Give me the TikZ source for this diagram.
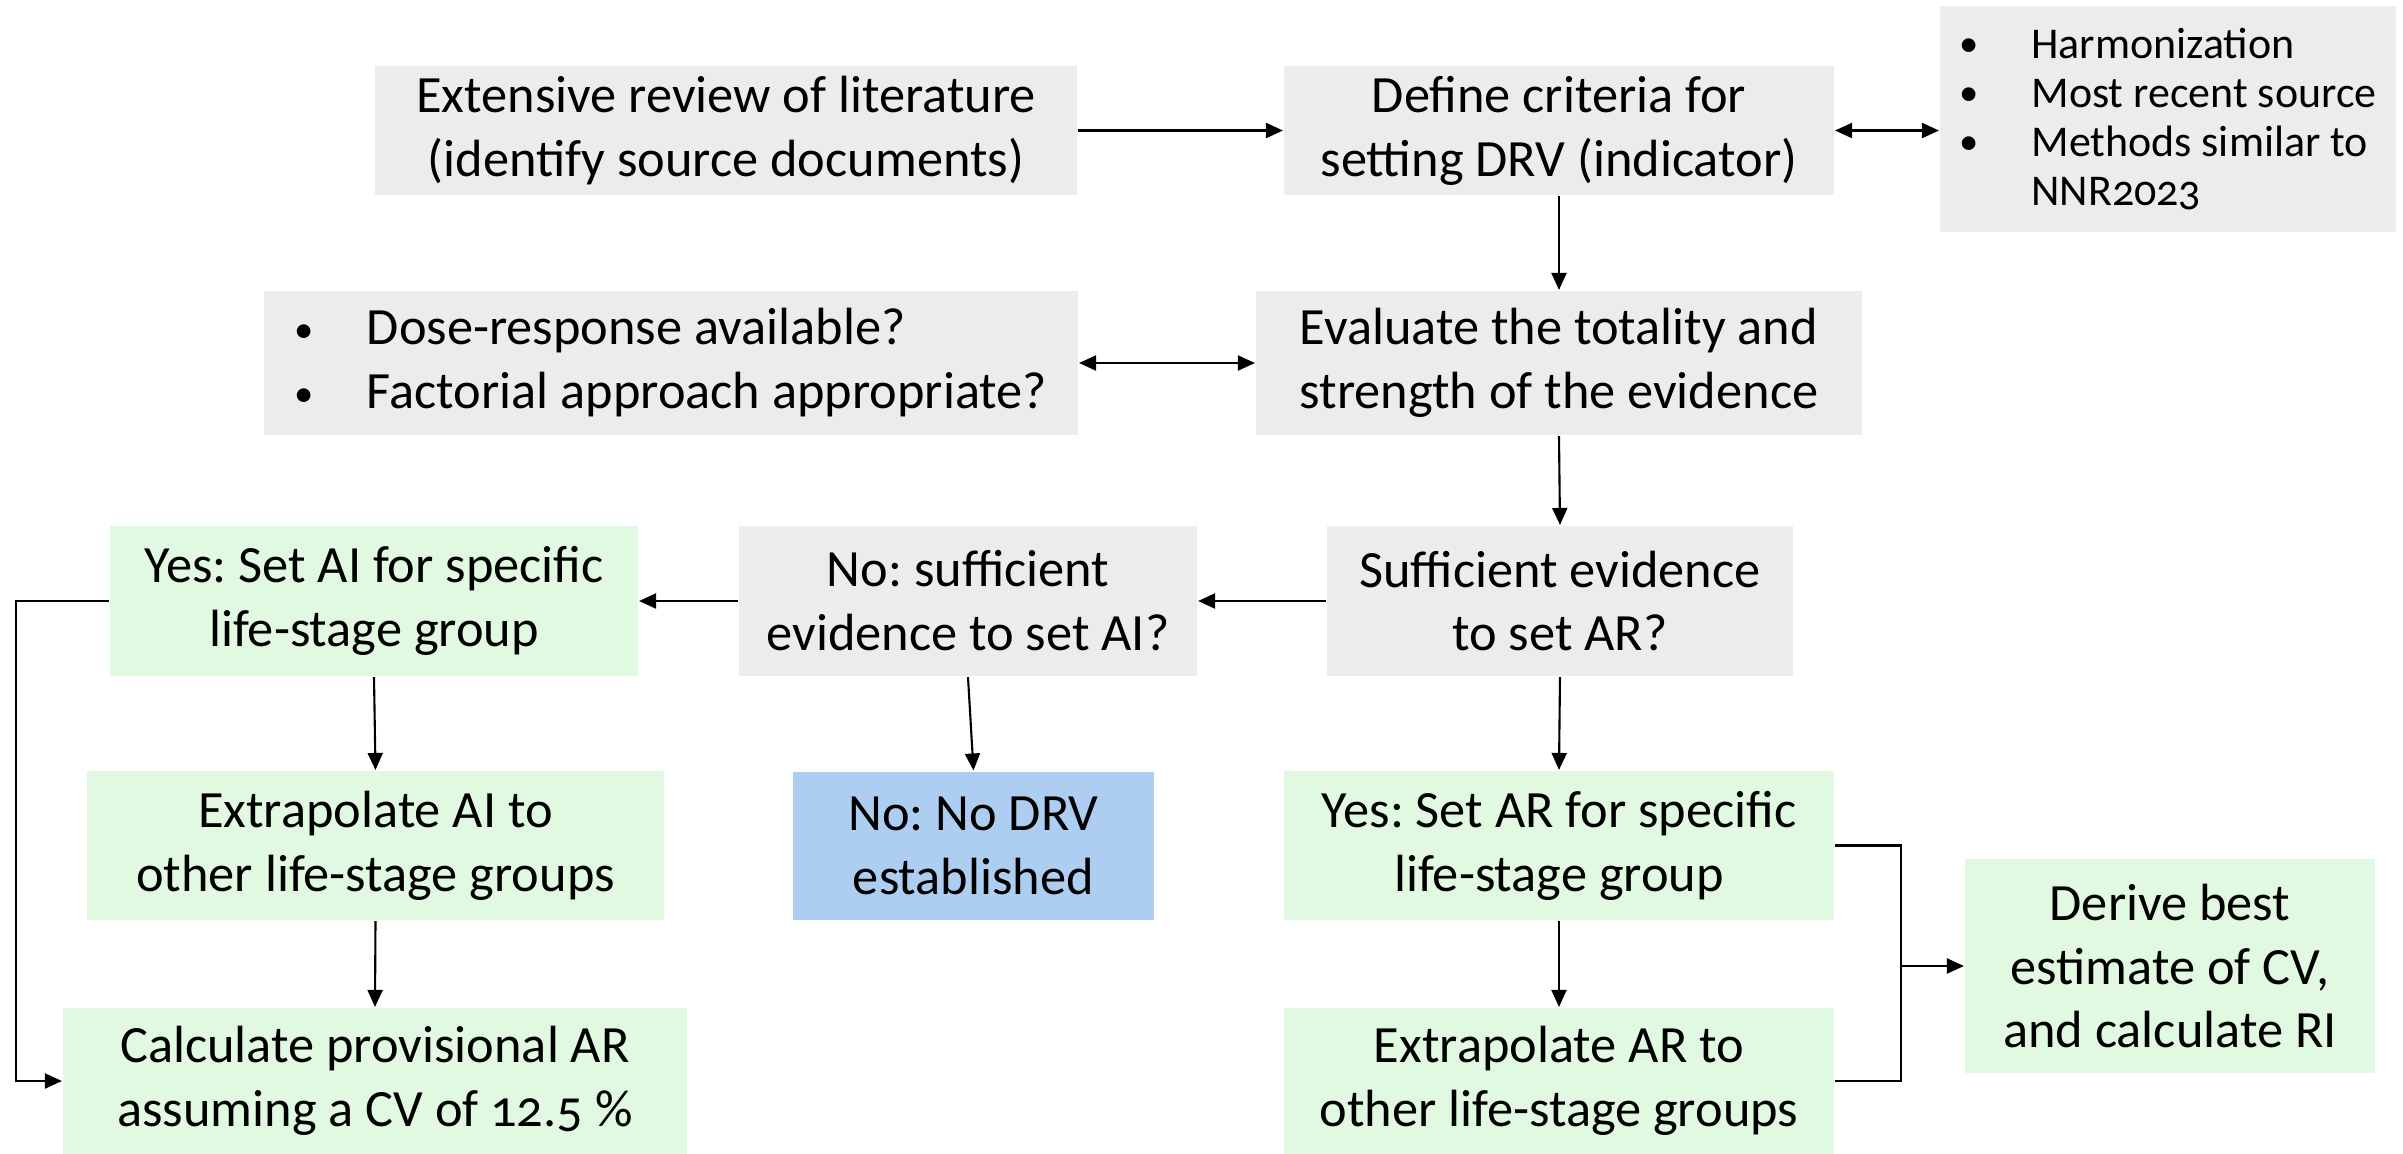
\documentclass[tikz,border=0pt]{standalone}
\usepackage{fontspec}
\setmainfont{Carlito}[Numbers=OldStyle]
\usepackage{tikz}
\usetikzlibrary{arrows.meta}
\definecolor{boxgrey}{HTML}{EBECEE}
\definecolor{boxgreen}{HTML}{E1F8E1}
\definecolor{boxblue}{HTML}{ADCEF0}
\frenchspacing
\newcommand{\itm}{\makebox[0.72cm][l]{\raisebox{0.6pt}{\fontsize{11}{11}\selectfont\textbullet}}}

\begin{document}
\begin{tikzpicture}[>={Triangle[length=0.17cm,width=0.15cm]},line width=0.6pt,box/.style={shape=rectangle,inner sep=0pt,align=center,font=\fontsize{14.9}{18.2}\selectfont},boxG/.style={box,fill=boxgrey},boxY/.style={box,fill=boxgreen},boxB/.style={box,fill=boxblue}]
\def\ya{-1.305};
\def\yb{-3.63};
\def\yc{-6.01};
\def\yd{-8.455};
\def\ye{-10.81};
\def\xm{15.59};

\useasboundingbox (0,0) rectangle (24.03,-11.54);

\node[boxG,minimum width=7.02cm,minimum height=1.29cm] (lit) at (7.26,\ya) {Extensive review of literature\\(identify source documents)};
\node[boxG,minimum width=5.50cm,minimum height=1.29cm] (crit) at (\xm,\ya) {Define criteria for\\setting DRV (indicator)};
\draw[->] (lit.east) -- (crit.west);
\node[boxG,minimum width=4.56cm,minimum height=2.26cm,align=left,font=\fontsize{12.5}{13.9}\selectfont] (list) at (21.68,-1.19) {\itm Harmonization\\\itm Most recent source\\\itm Methods similar to\\\hspace*{0.72cm}NNR2023};
\draw[<->] (crit.east) -- (crit.east-|list.west);

\node[boxG,minimum width=6.06cm,minimum height=1.44cm] (eval) at (\xm,\yb) {Evaluate the totality and\\strength of the evidence};
\draw[->] (crit.south) -- (eval.north);
\node[boxG,minimum width=8.14cm,minimum height=1.44cm,align=left] (dose) at (6.71,\yb) {\itm Dose-response available?\\\itm Factorial approach appropriate?};
\draw[<->] (dose.east) -- (eval.west);

\node[boxG,minimum width=4.66cm,minimum height=1.50cm] (suffAR) at (15.60,\yc) {Sufficient evidence\\to set AR?};
\draw[->] (eval.south) -- (suffAR.north);
\node[boxG,minimum width=4.58cm,minimum height=1.50cm] (suffAI) at (9.68,\yc) {No: sufficient\\evidence to set AI?};
\draw[->] (suffAR.west) -- (suffAI.east);
\node[boxY,minimum width=5.28cm,minimum height=1.50cm] (setAI) at (3.74,\yc) {Yes: Set AI for specific\\life-stage group};
\draw[->] (suffAI.west) -- (setAI.east);

\node[boxY,minimum width=5.77cm,minimum height=1.49cm] (extAI) at (3.755,\yd) {Extrapolate AI to\\other life-stage groups};
\draw[->] (setAI.south) -- (extAI.north);
\node[boxB,minimum width=3.61cm,minimum height=1.48cm] (noDRV) at (9.735,\yd) {No: No DRV\\established};
\draw[->] (suffAI.south) -- (noDRV.north);
\node[boxY,minimum width=5.50cm,minimum height=1.49cm] (setAR) at (\xm,\yd) {Yes: Set AR for specific\\life-stage group};
\draw[->] (suffAR.south) -- (setAR.north);

\node[boxY,minimum width=6.24cm,minimum height=1.46cm] (calcAR) at (3.75,\ye) {Calculate provisional AR\\assuming a CV of 12.5 \%};
\draw[->] (extAI.south) -- (calcAR.north);
\draw[->] (setAI.west) -| (0.16,\ye) -- (calcAR.west);
\node[boxY,minimum width=5.50cm,minimum height=1.46cm] (extAR) at (\xm,\ye) {Extrapolate AR to\\other life-stage groups};
\draw[->] (setAR.south) -- (extAR.north);

\node[boxY,minimum width=4.10cm,minimum height=2.14cm] (best) at (21.70,-9.66) {Derive best\\estimate of CV,\\and calculate RI};
\draw (setAR.east) -| (19.01,\ye) -- (extAR.east);
\draw[->] (19.01,-9.66) -- (best.west);
\end{tikzpicture}
\end{document}
